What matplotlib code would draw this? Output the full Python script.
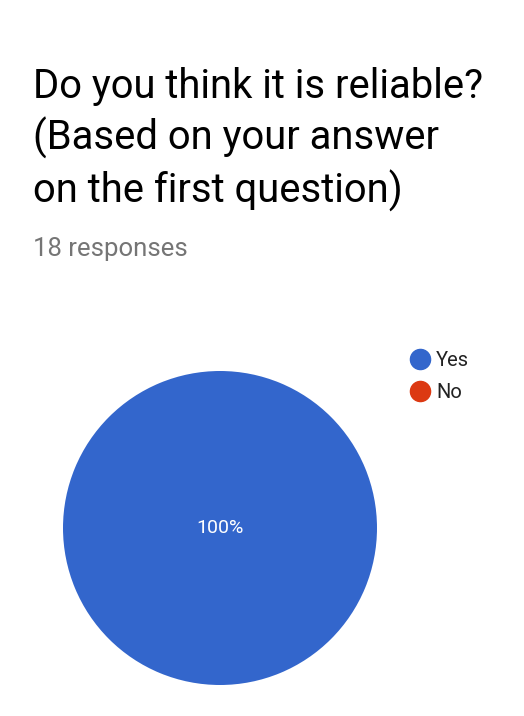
import matplotlib.pyplot as plt
from matplotlib.lines import Line2D

# Data
labels = ['Yes', 'No']
counts = [18, 0]
colors = ['#3366cc', '#dc3912']
title = 'Do you think it is reliable?\n(Based on your answer\non the first question)'
subtitle = '18 responses'

plt.rcParams['font.family'] = ['Roboto', 'DejaVu Sans']

W, H = 524, 716
fig = plt.figure(figsize=(W / 100, H / 100), dpi=100)
fig.patch.set_facecolor('white')

# ========================== TITLE
# baseline of the last title line sits at y=203 px
fig.text(33 / W, 1 - 203 / H, title, fontsize=28.8, color='black',
         ha='left', va='baseline', linespacing=1.33)
fig.text(33 / W, 1 - 256 / H, subtitle, fontsize=18.5, color='#757575',
         ha='left', va='baseline')

# ========================== PIE
cx, cy, r = 220, 528, 157
ax = fig.add_axes([(cx - r) / W, 1 - (cy + r) / H, 2 * r / W, 2 * r / H])


def pct_label(p):
    return f'{p:.0f}%' if p > 0 else ''


wedges, texts, autotexts = ax.pie(
    counts, colors=colors, startangle=90, counterclock=False,
    autopct=pct_label, pctdistance=0.0, radius=1,
    textprops={'color': 'white', 'fontsize': 14})
ax.set_xlim(-1, 1)
ax.set_ylim(-1, 1)
ax.set_aspect('equal')
ax.axis('off')

# ========================== LEGEND
handles = [Line2D([0], [0], marker='o', linestyle='', markersize=14.5,
                  markerfacecolor=c, markeredgecolor=c) for c in colors]
fig.legend(handles, labels, loc='upper left',
           bbox_to_anchor=(400 / W, 1 - 341 / H), frameon=False,
           fontsize=14.5, handlelength=1.0, handletextpad=0.3,
           labelspacing=0.62, borderpad=0, labelcolor='#222222')

fig.savefig('out.png', dpi=100, facecolor='white')
